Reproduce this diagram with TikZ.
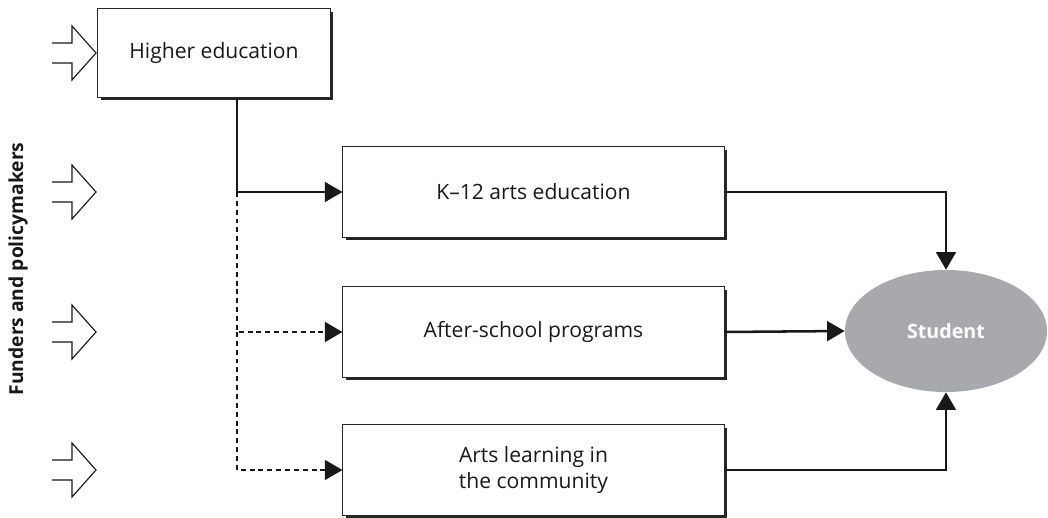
\documentclass[tikz,border=0pt]{standalone}
\usepackage{fontspec}
\setmainfont{Open Sans}
\usetikzlibrary{arrows.meta}
\usetikzlibrary{shapes.geometric}
\usetikzlibrary{shadows}

\definecolor{studentgray}{HTML}{A7A9AC}

\tikzset{
  box/.style={draw=black!85, line width=0.7pt, fill=white, minimum width=9.525cm,
    minimum height=2.25cm, align=center, text=black!90, font=\fontsize{15}{18.5}\selectfont,
    drop shadow={shadow xshift=2pt, shadow yshift=-2pt, fill=black!85, opacity=1}},
  link/.style={line width=1.8pt, black!90, -{Triangle[length=12.5pt,width=14pt]}},
  maybe/.style={link, dash pattern=on 3.5pt off 2.8pt},
  fund/.style={line width=0.8pt, black!90},
}

\begin{document}
\begin{tikzpicture}[x=0.025cm, y=-0.025cm]
\useasboundingbox (0,0) rectangle (1048,518);

\node[box, minimum width=5.8cm, minimum height=2.2cm] (higher) at (214,53) {Higher education};
\node[box] (k12) at (533.5,192) {K--12 arts education};
\node[box] (after) at (533.5,332) {After-school programs};
\node[box] (arts) at (533.5,470) {Arts learning in\\the community};

\node[ellipse, fill=studentgray, minimum width=5.05cm, minimum height=3.05cm, text=white,
  font=\fontsize{14}{17}\selectfont\bfseries] (student) at (946,331) {Student};

\node[rotate=90, text=black!90, font=\fontsize{13.7}{16}\selectfont\bfseries] (funders) at (18,269) {Funders and policymakers};

% open block arrows on the left
\foreach \y in {53,192,332,470}
  \draw[fund] (52,\y-10) -- (72,\y-10) -- (72,\y-27) -- (96,\y) -- (72,\y+27) -- (72,\y+10) -- (52,\y+10);

\coordinate (fork) at (237,192);

\draw[link] (higher.south -| fork) -- (fork) -- (k12.west);
\draw[maybe] (fork) -- (fork |- after.west) -- (after.west);
\draw[maybe] (fork |- after.west) -- (fork |- arts.west) -- (arts.west);

\draw[link] (k12.east) -| (student.north);
\draw[link] (after.east) -- (student.west);
\draw[link] (arts.east) -| (student.south);

\end{tikzpicture}
\end{document}
